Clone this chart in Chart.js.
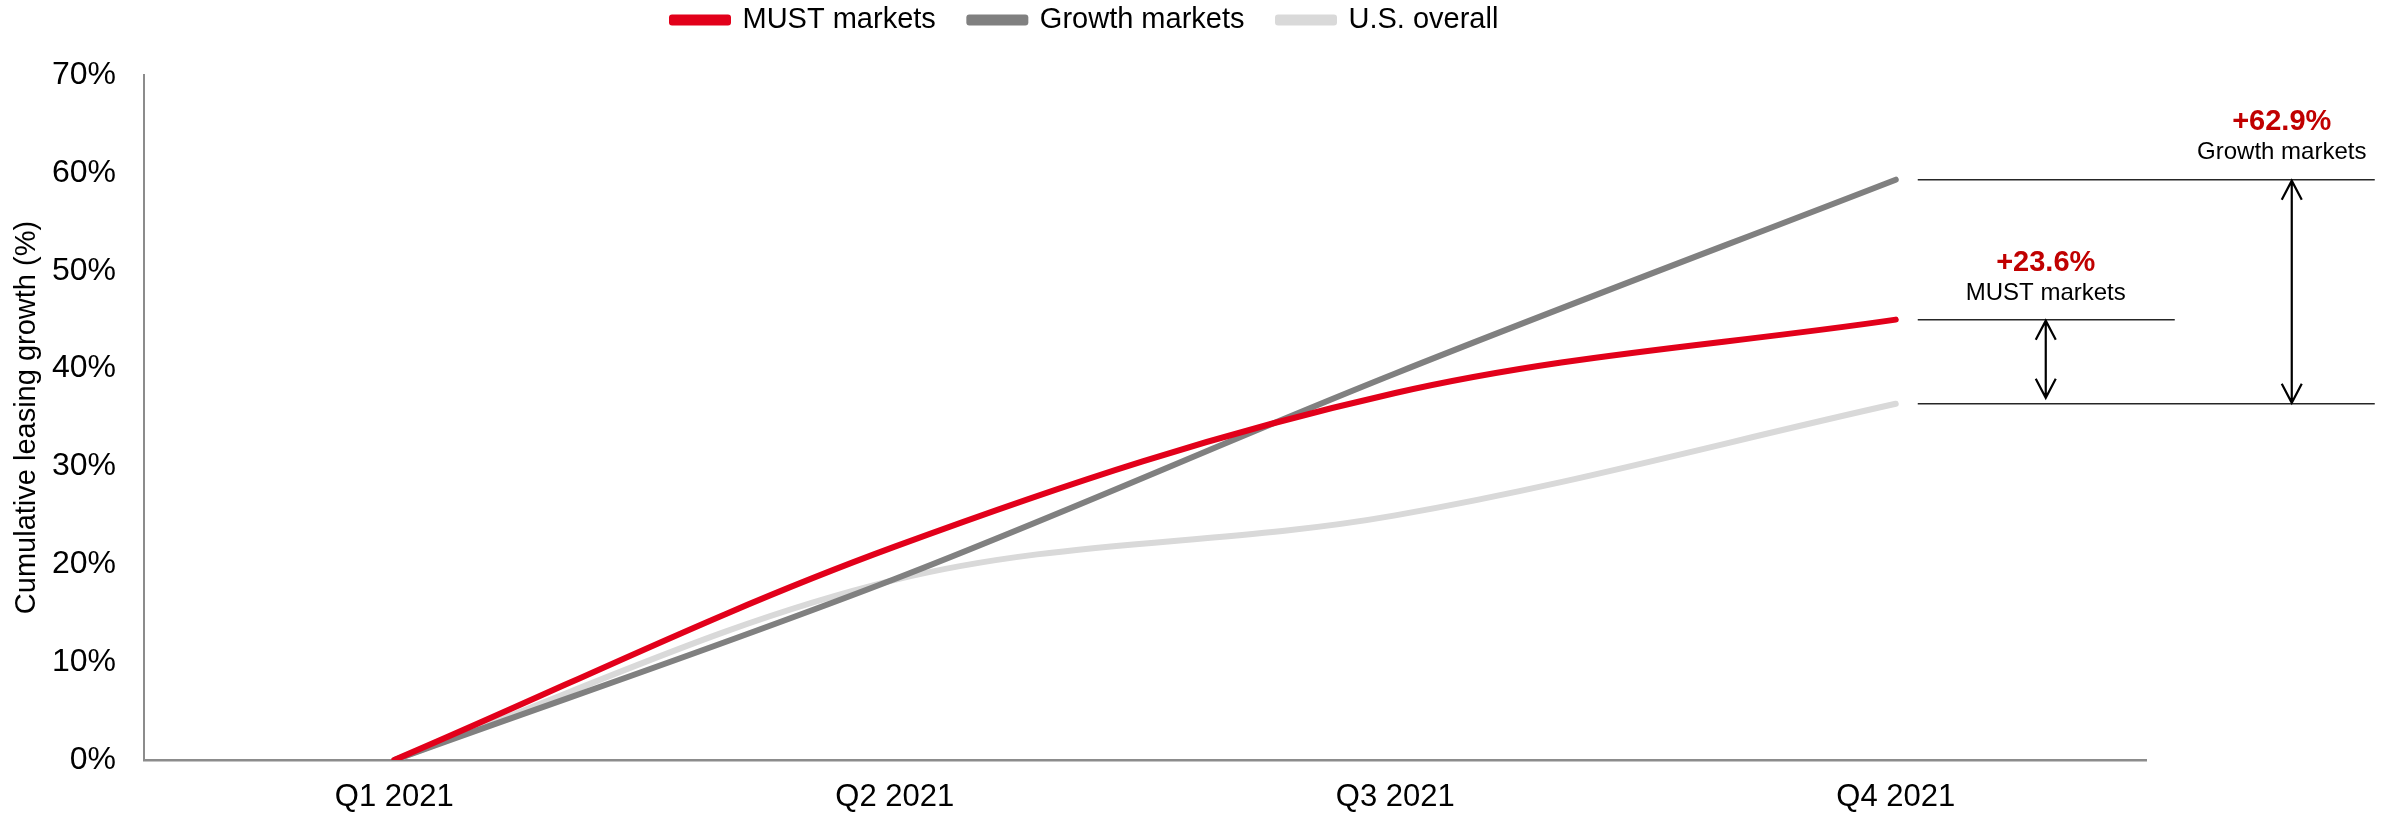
<!DOCTYPE html>
<html>
<head>
<meta charset="utf-8">
<script src="https://cdn.jsdelivr.net/npm/chart.js@4"></script>
<style>
  html, body { margin: 0; padding: 0; background: #fff; }
  #wrap { width: 2392px; height: 814px; }
</style>
</head>
<body>
<div id="wrap"><canvas id="leasingChart"></canvas></div>
<script>
// chart data
const quarters = ["Q1 2021", "Q2 2021", "Q3 2021", "Q4 2021"];
const mustMarkets = [0, 21.8, 37.5, 45.0];
const growthMarkets = [0, 18.5, 39.5, 59.3];
const usOverall = [0, 18.4, 25.0, 36.4];
const yTicks = [0, 10, 20, 30, 40, 50, 60, 70];
const mustLabel = ["+23.6%", "MUST markets"];
const growthLabel = ["+62.9%", "Growth markets"];

const FONT = "'Liberation Sans', Arial, sans-serif";
const LEGEND_PAD = 33.5;

// keeps the legend where the original has it
const legendPlace = {
    id: "legendPlace",
    afterLayout(chart) {
        const lg = chart.legend;
        if (!lg) return;
        lg.left = 672 - LEGEND_PAD;
        lg.right = 2392;
        lg.top = 20 - LEGEND_PAD - 14.5;
    }
};

function arrow(ctx, x, y1, y2) {
    ctx.beginPath();
    ctx.moveTo(x, y1);
    ctx.lineTo(x, y2);
    ctx.moveTo(x - 10, y1 + 19);
    ctx.lineTo(x, y1);
    ctx.lineTo(x + 10, y1 + 19);
    ctx.moveTo(x - 10, y2 - 19);
    ctx.lineTo(x, y2);
    ctx.lineTo(x + 10, y2 - 19);
    ctx.stroke();
}

// difference lines + arrows on the right
const gapMarks = {
    id: "gapMarks",
    afterDatasetsDraw(chart) {
        const ctx = chart.ctx;
        const x = chart.scales.x, y = chart.scales.y;
        const last = quarters.length - 1;
        const x0 = x.getPixelForValue(last);
        const yG = y.getPixelForValue(growthMarkets[last]);
        const yM = y.getPixelForValue(mustMarkets[last]);
        const yU = y.getPixelForValue(usOverall[last]);

        ctx.save();
        ctx.strokeStyle = "#262626";
        ctx.lineWidth = 1.5;
        ctx.beginPath();
        ctx.moveTo(x0 + 22, yG); ctx.lineTo(x0 + 479, yG);
        ctx.moveTo(x0 + 22, yM); ctx.lineTo(x0 + 279, yM);
        ctx.moveTo(x0 + 22, yU); ctx.lineTo(x0 + 479, yU);
        ctx.stroke();

        ctx.strokeStyle = "#000";
        ctx.lineWidth = 2.2;
        arrow(ctx, x0 + 150, yM + 1, yU - 6);
        arrow(ctx, x0 + 396, yG + 1, yU - 1);

        ctx.textAlign = "center";
        ctx.textBaseline = "middle";
        ctx.fillStyle = "#C00000";
        ctx.font = "bold 29px " + FONT;
        ctx.fillText(mustLabel[0], x0 + 150, yM - 57);
        ctx.fillText(growthLabel[0], x0 + 386, yG - 58);
        ctx.fillStyle = "#000";
        ctx.font = "24px " + FONT;
        ctx.fillText(mustLabel[1], x0 + 150, yM - 26);
        ctx.fillText(growthLabel[1], x0 + 386, yG - 27);
        ctx.restore();
    }
};

const ctx = document.getElementById("leasingChart").getContext("2d");

new Chart(ctx, {
    type: "line",
    data: {
        labels: quarters,
        datasets: [
            {
                label: "MUST markets",
                data: mustMarkets,
                borderColor: "#E2001A",
                backgroundColor: "#E2001A",
                borderWidth: 6,
                order: 0
            },
            {
                label: "Growth markets",
                data: growthMarkets,
                borderColor: "#808080",
                backgroundColor: "#808080",
                borderWidth: 6,
                order: 1
            },
            {
                label: "U.S. overall",
                data: usOverall,
                borderColor: "#D9D9D9",
                backgroundColor: "#D9D9D9",
                borderWidth: 6,
                order: 2
            }
        ]
    },
    options: {
        responsive: true,
        maintainAspectRatio: false,
        animation: false,
        layout: { padding: { left: 0, right: 246, top: 2.5, bottom: -20 } },
        elements: {
            line: { tension: 0.35, borderCapStyle: "round", borderJoinStyle: "round", fill: false },
            point: { radius: 0, hoverRadius: 0 }
        },
        scales: {
            x: {
                offset: true,
                grid: { display: false, drawTicks: false },
                border: { display: true, color: "#8c8c8c", width: 2.5 },
                ticks: { color: "#000", padding: 18.4, font: { family: FONT, size: 31 } }
            },
            y: {
                min: 0,
                max: 70,
                afterBuildTicks(scale) {
                    scale.ticks = yTicks.map(v => ({ value: v }));
                },
                grid: { display: false, drawTicks: false },
                border: { display: true, color: "#8c8c8c", width: 2 },
                ticks: {
                    color: "#000",
                    padding: 28,
                    font: { family: FONT, size: 32 },
                    callback: v => v + "%"
                },
                title: {
                    display: true,
                    text: "Cumulative leasing growth (%)",
                    color: "#000",
                    font: { family: FONT, size: 29 },
                    padding: { top: 9.6, bottom: -20.4 }
                }
            }
        },
        plugins: {
            legend: {
                position: "top",
                align: "start",
                labels: {
                    boxWidth: 56,
                    boxHeight: 5,
                    padding: LEGEND_PAD,
                    color: "#000",
                    font: { family: FONT, size: 29 }
                }
            },
            tooltip: { enabled: false }
        }
    },
    plugins: [legendPlace, gapMarks]
});
</script>
</body>
</html>
